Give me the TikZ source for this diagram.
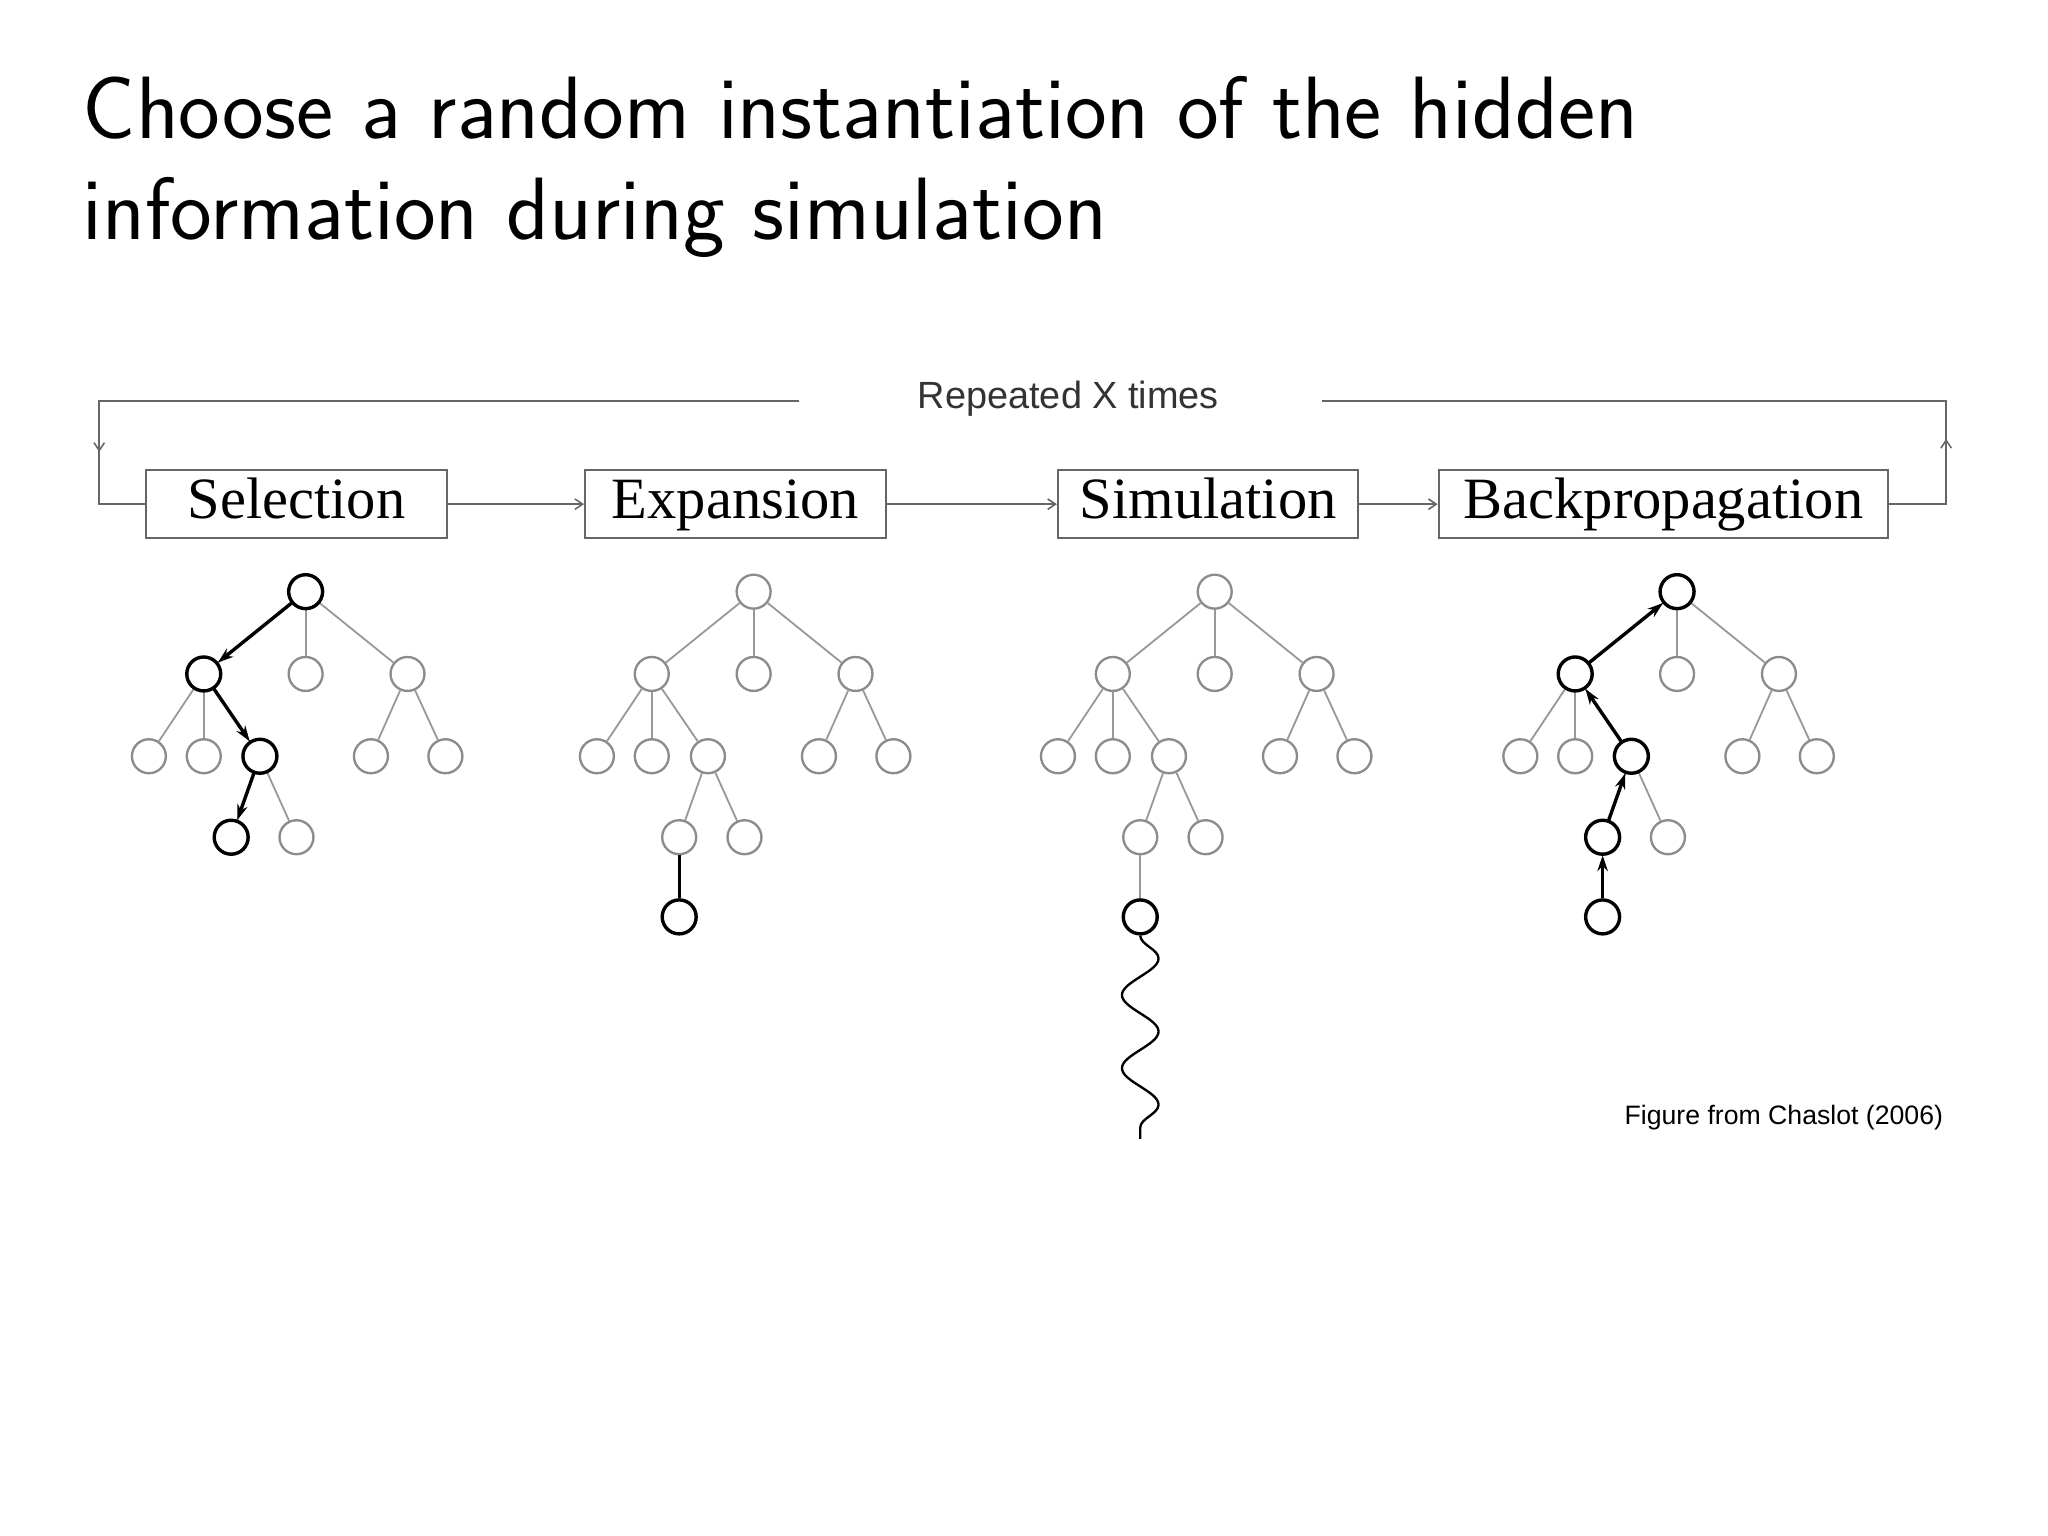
\documentclass[tikz,border=0pt]{standalone}
\usepackage{fontspec}
\usetikzlibrary{arrows.meta,decorations.pathmorphing}
\newfontfamily\figserif{Liberation Serif}
\newfontfamily\figsans{Liberation Sans}
\begin{document}
\begin{tikzpicture}[x=0.5pt,y=-0.5pt,
  lt/.style={circle,draw=black!45,line width=0.9pt,minimum size=13pt,inner sep=0pt},
  bd/.style={circle,draw=black,line width=1.3pt,minimum size=13pt,inner sep=0pt},
  ed/.style={draw=black!40,line width=0.7pt},
  bed/.style={draw=black,line width=1.3pt,-{Stealth[length=6pt,width=4pt]}},
  phase/.style={draw=black!60,line width=0.8pt,minimum width=115pt,minimum height=26pt,inner sep=0pt,text height=15pt,text depth=4pt,font=\figserif\fontsize{22.4}{26}\selectfont},
  flow/.style={draw=black!60,line width=0.6pt,-{Straight Barb[length=3pt,width=4pt]}}]
\useasboundingbox (0,0) rectangle (1568,1176);
\node[anchor=base west,inner sep=0pt,font=\sffamily\fontsize{33.9}{40}\selectfont] (t1) at (63,106) {Choose a random instantiation of the hidden};
\node[anchor=base west,inner sep=0pt,font=\sffamily\fontsize{33.9}{40}\selectfont] (t2) at (63,183) {information during simulation};
% boxes
\node[phase] (sel) at (227,386) {Selection};
\node[phase] (exp) at (563,386) {Expansion};
\node[phase] (sim) at (925,386) {Simulation};
\node[phase,minimum width=172pt] (bp) at (1273.5,386) {Backpropagation};
\draw[flow] (sel) -- (exp);
\draw[flow] (exp) -- (sim);
\draw[flow] (sim) -- (bp);
\node[font=\figsans\fontsize{14.5}{17}\selectfont,text=black!80] (rep) at (818,305) {Repeated X times};
\coordinate (l1) at (76,307); \coordinate (l2) at (76,386);
\coordinate (r1) at (1490,307); \coordinate (r2) at (1490,386);
\draw[black!60,line width=0.6pt] (612,307) -- (l1) -- (l2) -- (sel.west);
\draw[black!60,line width=0.6pt] (1012,307) -- (r1) -- (r2) -- (bp.east);
\draw[flow] (76,330) -- (76,346);
\draw[flow] (1490,352) -- (1490,336);
% tree template
\newcommand{\mytree}[2]{%
\begin{scope}[shift={(#1,0)},name prefix=#2]
\node[lt] (r) at (234,453) {};
\node[lt] (a) at (156,516) {}; \node[lt] (b) at (234,516) {}; \node[lt] (c) at (312,516) {};
\node[lt] (a1) at (114,579) {}; \node[lt] (a2) at (156,579) {}; \node[lt] (a3) at (199,579) {};
\node[lt] (c1) at (284,579) {}; \node[lt] (c2) at (341,579) {};
\node[lt] (d1) at (177,641) {}; \node[lt] (d2) at (227,641) {};
\foreach \u/\v in {r/a,r/b,r/c,a/a1,a/a2,a/a3,c/c1,c/c2,a3/d1,a3/d2} \draw[ed] (\u) -- (\v);
\end{scope}}
\mytree{0}{s}
\mytree{343}{e}
\mytree{696}{m}
\mytree{1050}{b}
% selection highlights
\foreach \n in {sr,sa,sa3,sd1} \node[bd] at (\n) {};
\draw[bed] (sr) -- (sa); \draw[bed] (sa) -- (sa3); \draw[bed] (sa3) -- (sd1);
% expansion
\node[bd] (en) at (520,702) {};
\draw[black,line width=1.1pt] (ed1) -- (en);
% simulation
\node[bd] (mn) at (873,702) {};
\draw[ed] (md1) -- (mn);
\coordinate (mend) at (873,872);
\draw[black,line width=0.9pt,decorate,decoration={snake,amplitude=7pt,segment length=28pt}] (mn) -- (mend);
% backprop
\foreach \n in {br,ba,ba3,bd1} \node[bd] at (\n) {};
\node[bd] (bn) at (1227,702) {};
\draw[bed] (bn) -- (bd1); \draw[bed] (bd1) -- (ba3); \draw[bed] (ba3) -- (ba); \draw[bed] (ba) -- (br);
\node[anchor=east,inner sep=0pt,font=\figsans\fontsize{10.2}{12}\selectfont] (cap) at (1488,856) {Figure from Chaslot (2006)};
\end{tikzpicture}
\end{document}
